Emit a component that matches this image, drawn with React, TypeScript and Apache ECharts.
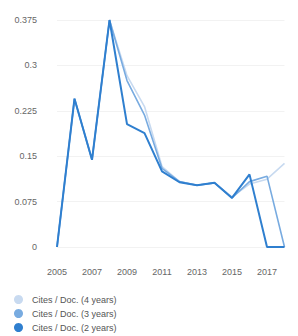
import React, { useEffect, useRef } from "react";
import * as echarts from "echarts";

const years = ["2005","2006","2007","2008","2009","2010","2011","2012","2013","2014","2015","2016","2017","2018"];
const cites4 = [0, 0.245, 0.144, 0.375, 0.283, 0.232, 0.133, 0.108, 0.102, 0.106, 0.083, 0.104, 0.112, 0.138];
const cites3 = [0, 0.245, 0.144, 0.375, 0.275, 0.218, 0.13, 0.108, 0.102, 0.106, 0.081, 0.108, 0.117, 0];
const cites2 = [0, 0.245, 0.144, 0.375, 0.203, 0.188, 0.125, 0.107, 0.102, 0.106, 0.081, 0.12, 0, 0];
const seriesNames = ["Cites / Doc. (4 years)", "Cites / Doc. (3 years)", "Cites / Doc. (2 years)"];
const colors = ["#c8daf0", "#78abe0", "#2f7fcf"];

export default function App() {
  const ref = useRef<HTMLDivElement>(null);
  useEffect(() => {
    document.body.style.margin = "0";
    const chart = echarts.init(ref.current!, null, { renderer: "svg" });
    const data = [cites4, cites3, cites2];
    chart.setOption({
      animation: false,
      color: colors,
      textStyle: { fontFamily: "Liberation Sans, Arial, sans-serif" },
      grid: { left: 57, right: 13.5, top: 20, bottom: 89, containLabel: false },
      xAxis: {
        type: "category",
        data: years,
        boundaryGap: false,
        axisLine: { show: false },
        axisTick: { show: false },
        axisLabel: { interval: 1, fontSize: 9, color: "#666", margin: 20 },
        splitLine: { show: false },
      },
      yAxis: {
        type: "value",
        min: 0,
        max: 0.375,
        interval: 0.075,
        axisLine: { show: false },
        axisTick: { show: false },
        axisLabel: { fontSize: 9, color: "#666", margin: 20 },
        splitLine: { lineStyle: { color: "#f2f2f2", width: 1 } },
      },
      legend: {
        orient: "vertical",
        left: 14,
        top: 295,
        height: 40,
        padding: 0,
        itemGap: 5,
        itemWidth: 9,
        itemHeight: 9,
        icon: "circle",
        textStyle: { fontSize: 9, color: "#555", padding: [0, 0, 0, 4] },
        data: seriesNames,
      },
      series: seriesNames.map((name, i) => ({
        name,
        type: "line",
        data: data[i],
        symbol: "none",
        lineStyle: { width: i === 2 ? 2 : 1.6, color: colors[i] },
        itemStyle: { color: colors[i] },
      })),
    });
    return () => chart.dispose();
  }, []);
  return <div ref={ref} style={{ width: 298, height: 336 }} />;
}
